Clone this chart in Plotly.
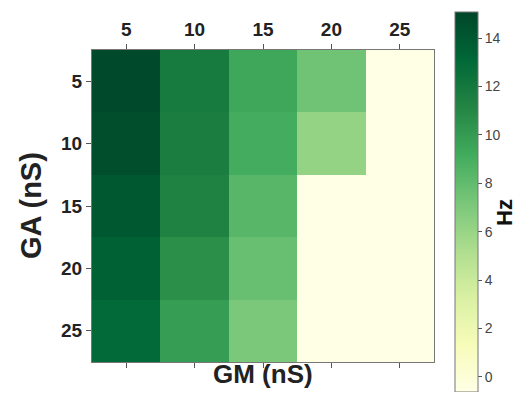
import plotly.graph_objects as go

gm = [5, 10, 15, 20, 25]
ga = [5, 10, 15, 20, 25]
rate_hz = [
    [14.8, 11.8, 9.4, 7.5, -0.62],
    [14.6, 11.6, 9.1, 6.2, -0.62],
    [14.0, 11.3, 8.4, -0.62, -0.62],
    [13.5, 10.6, 7.8, -0.62, -0.62],
    [13.0, 9.9, 7.1, -0.62, -0.62],
]
cbar_ticks = [0, 2, 4, 6, 8, 10, 12, 14]

ylgn = ['#ffffe5', '#f7fcb9', '#d9f0a3', '#addd8e', '#78c679',
        '#41ab5d', '#238443', '#006837', '#004529']
cs = [[i / 8, c] for i, c in enumerate(ylgn)]

FONT = "Liberation Sans"
OFF = 8  # page body margin offset
W, H = 530 - 2 * OFF, 400 - 2 * OFF
L, R, T, B = 92 - OFF, 434 - OFF, 50 - OFF, 362 - OFF


def px(xp):
    return (xp - OFF - L) / (R - L)


def py(yp):
    return (B - (yp - OFF)) / (B - T)


fig = go.Figure()
fig.add_trace(go.Heatmap(
    x=gm, y=ga, z=rate_hz, colorscale=cs, zmin=-0.62, zmax=15.08,
    colorbar=dict(
        thickness=23, thicknessmode='pixels',
        len=380, lenmode='pixels', xpad=0, ypad=0,
        x=px(455), xanchor='left',
        y=py(202), yanchor='middle',
        outlinecolor='#777', outlinewidth=1,
        tickvals=cbar_ticks, ticks='outside', ticklen=4, tickcolor='#555',
        tickfont=dict(family=FONT, size=14, color='#444'),
    ),
))
fig.add_trace(go.Scatter(x=gm, y=ga, xaxis='x2', mode='markers',
                         marker=dict(opacity=0), showlegend=False, hoverinfo='skip'))

tickfont = dict(family=FONT, size=19, color='#222', weight='bold')
titlefont = dict(family=FONT, size=29, color='#222', weight='bold')

fig.update_layout(
    width=W, height=H,
    margin=dict(l=L, r=W - R, t=T, b=H - B, autoexpand=False),
    paper_bgcolor='white', plot_bgcolor='white',
    xaxis=dict(side='top', tickvals=gm, ticks='outside', ticklen=5, tickcolor='#555',
               tickfont=tickfont, range=[2.5, 27.5], showgrid=False, zeroline=False,
               showline=True, linecolor='#777', linewidth=1, mirror=True),
    xaxis2=dict(overlaying='x', side='bottom', tickvals=gm, ticks='outside', ticklen=5,
                tickcolor='#555', showticklabels=False, range=[2.5, 27.5],
                showgrid=False, zeroline=False),
    yaxis=dict(tickvals=ga, ticks='outside', ticklen=5, tickcolor='#555',
               tickfont=tickfont, range=[27.5, 2.5], showgrid=False, zeroline=False,
               showline=True, linecolor='#777', linewidth=1, mirror=True),
    annotations=[
        dict(text='GA (nS)', textangle=-90, x=px(31), y=py(206), xref='paper', yref='paper',
             xanchor='center', yanchor='middle', showarrow=False, font=titlefont),
        dict(text='GM (nS)', x=px(263), y=py(374), xref='paper', yref='paper',
             xanchor='center', yanchor='middle', showarrow=False, borderpad=0,
             font=dict(family=FONT, size=26, color='#222', weight='bold')),
        dict(text='Hz', textangle=-90, x=px(505), y=py(212), xref='paper', yref='paper',
             xanchor='center', yanchor='middle', showarrow=False, borderpad=0,
             font=dict(family=FONT, size=22, color='#111', weight='bold')),
    ],
)
fig.write_html("out.html")
